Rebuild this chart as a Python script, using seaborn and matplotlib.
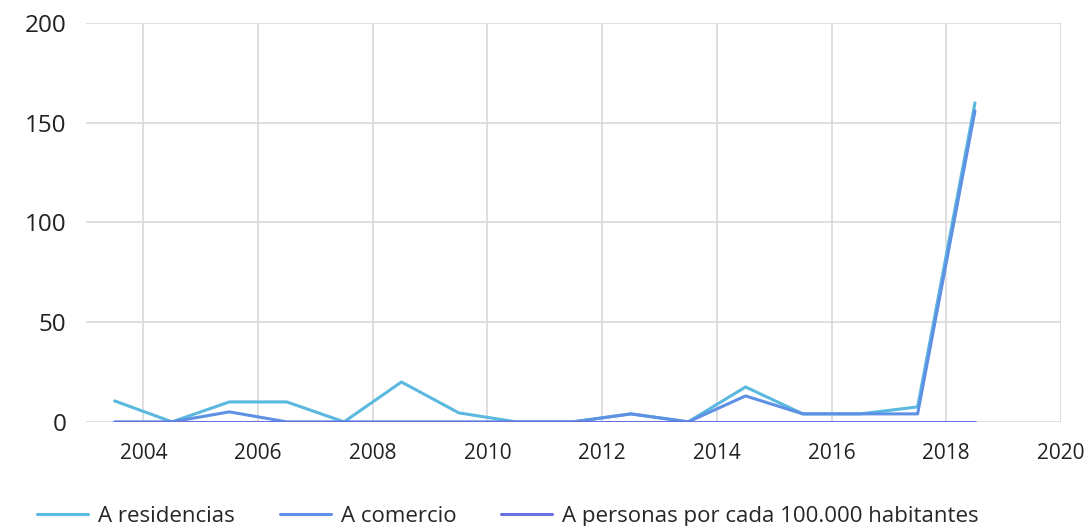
import numpy as np
import pandas as pd
import matplotlib
matplotlib.use("Agg")
import matplotlib.pyplot as plt
import seaborn as sns

years = [2003.5, 2004.5, 2005.5, 2006.5, 2007.5, 2008.5, 2009.5, 2010.5,
         2011.5, 2012.5, 2013.5, 2014.5, 2015.5, 2016.5, 2017.5, 2018.5]
residencias = [10.5, 0, 10, 10, 0, 20, 4.5, 0, 0, 4, 0, 17.5, 4, 4, 7.5, 160]
comercio = [0, 0, 5, 0, 0, 0, 0, 0, 0, 4, 0, 13, 4, 4, 4, 156]
personas = [0, 0, 0, 0, 0, 0, 0, 0, 0, 0, 0, 0, 0, 0, 0, 0]
series_names = ["A residencias", "A comercio", "A personas por cada 100.000 habitantes"]
colors = ["#5bb8df", "#5e90e3", "#6a6fdf"]
xticks = [2004, 2006, 2008, 2010, 2012, 2014, 2016, 2018, 2020]
yticks = [0, 50, 100, 150, 200]

df = pd.DataFrame({
    "year": years * 3,
    "value": residencias + comercio + personas,
    "serie": [series_names[0]] * len(years) + [series_names[1]] * len(years) + [series_names[2]] * len(years),
})

sns.set_theme(style="white")
plt.rcParams['font.family'] = ['Open Sans', 'DejaVu Sans']

fig = plt.figure(figsize=(10.9, 5.26), dpi=100)
ax = fig.add_axes([0.0789, 0.198, 0.8945, 0.758])

sns.lineplot(data=df, x="year", y="value", hue="serie", hue_order=series_names,
             palette=colors, linewidth=2.2, ax=ax, legend=True, sort=False)
for ln in ax.get_lines():
    ln.set_zorder(3)

ax.set_xlim(2003, 2020)
ax.set_ylim(0, 200)
ax.set_xticks(xticks)
ax.set_yticks(yticks)
ax.grid(True, color="#d9d9d9", linewidth=1.2)
ax.set_axisbelow(True)
for s in ax.spines.values():
    s.set_visible(False)
ax.set_xlabel("")
ax.set_ylabel("")
ax.tick_params(axis="y", labelsize=17.5, pad=14, colors="#222222", length=0)
ax.tick_params(axis="x", labelsize=15, pad=15, colors="#222222", length=0)

handles, labels = ax.get_legend_handles_labels()
ax.get_legend().remove()
leg = fig.legend(handles, labels, loc="lower center", ncol=3, frameon=False,
                 bbox_to_anchor=(0.466, -0.04), fontsize=16, handlelength=2.3,
                 columnspacing=2.0, handletextpad=0.45)
for line in leg.get_lines():
    line.set_linewidth(2.2)

fig.savefig("out.png", dpi=100)
